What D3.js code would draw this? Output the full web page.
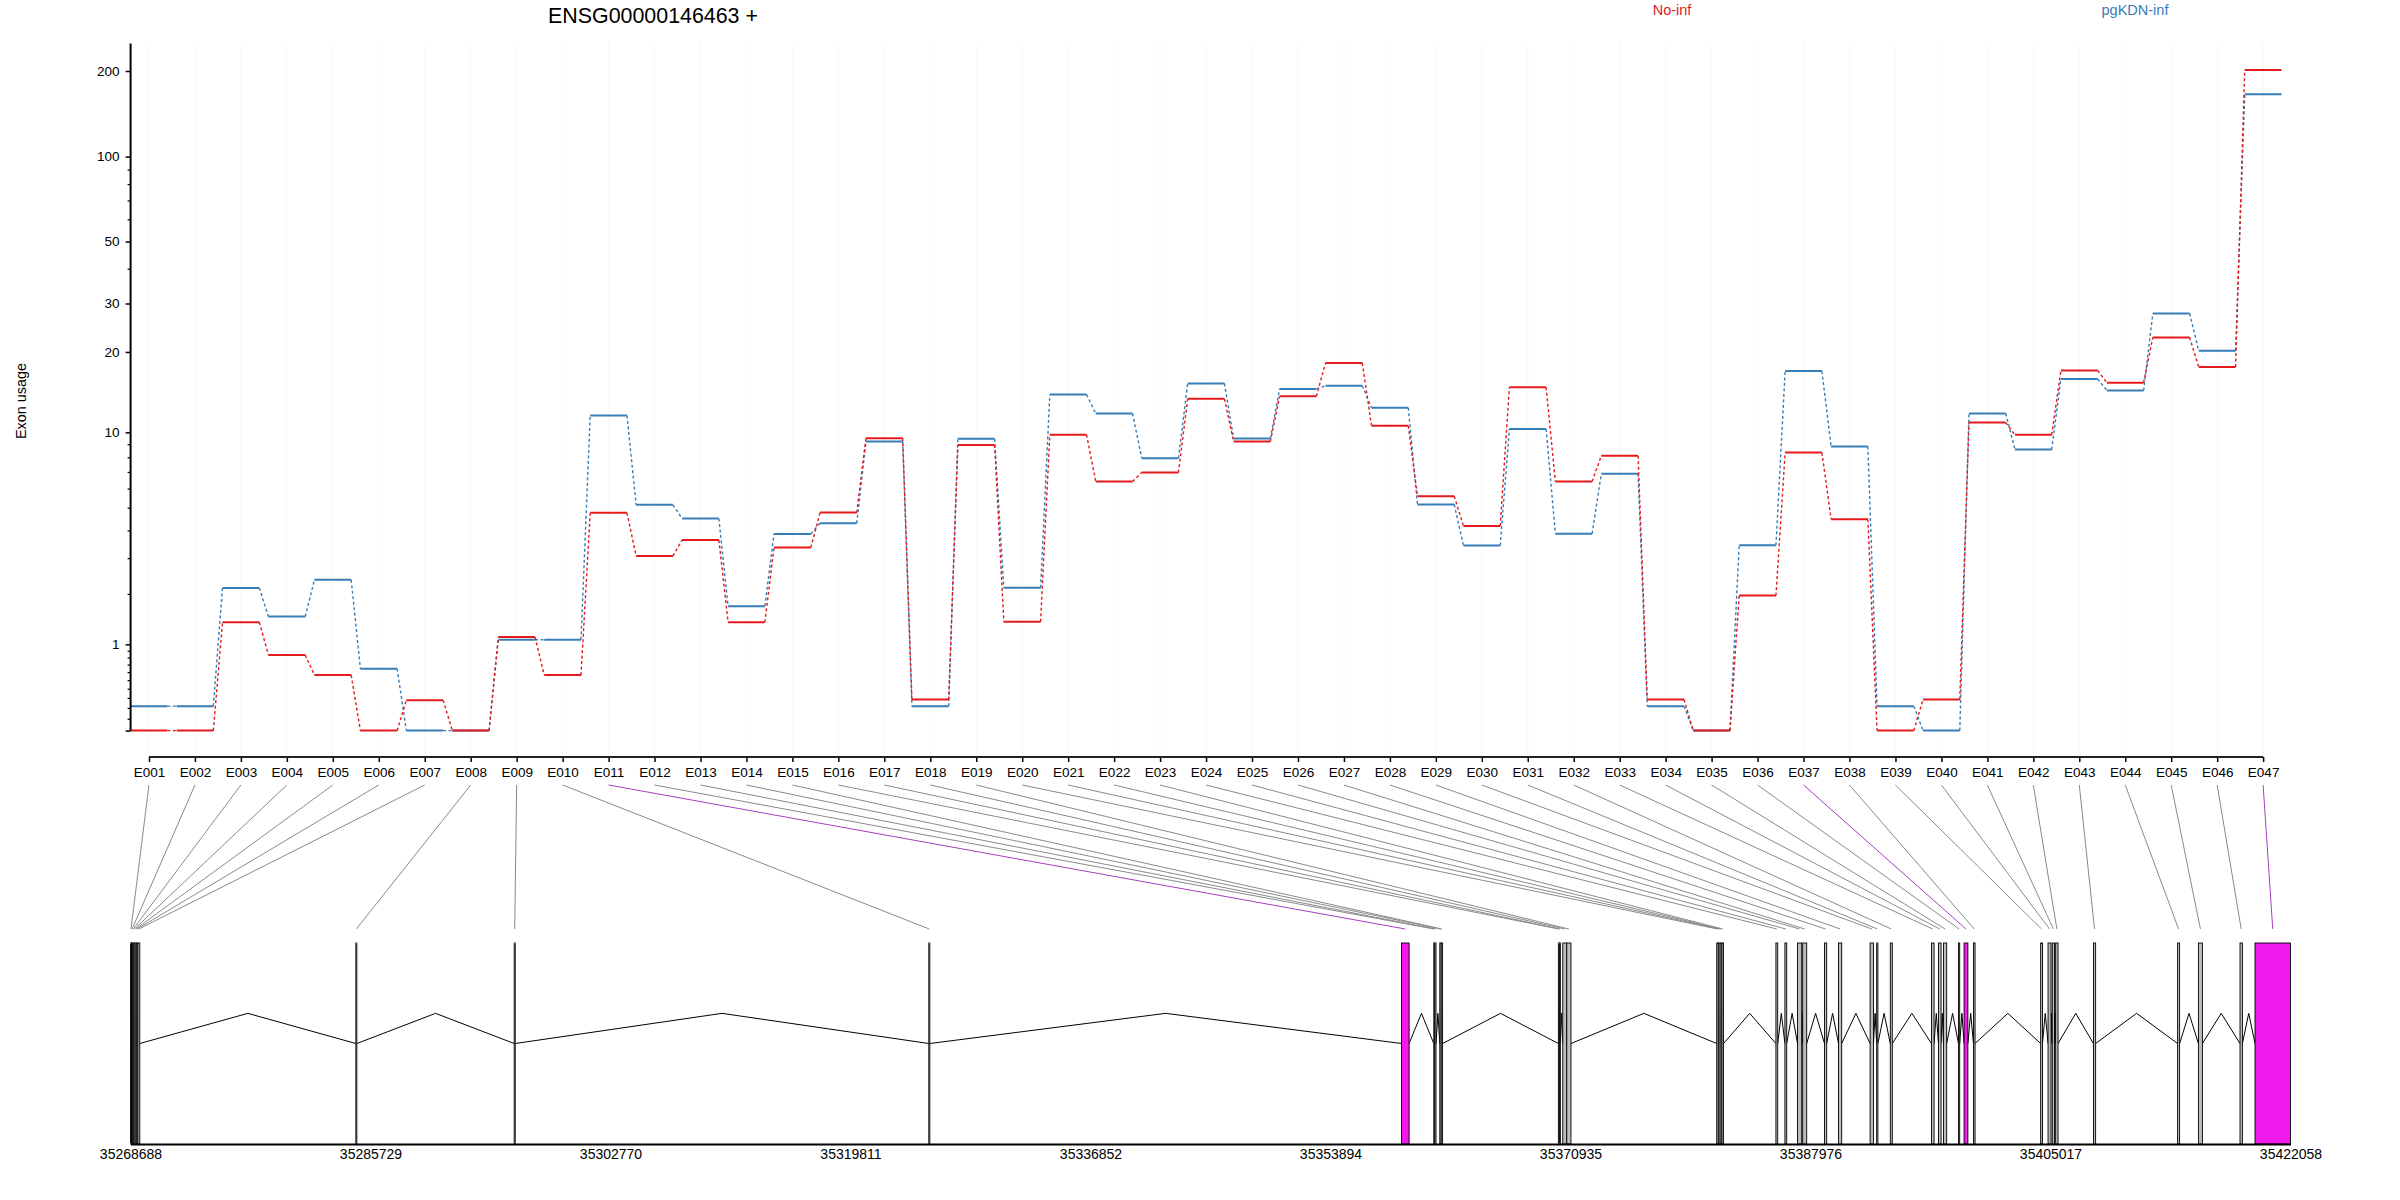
<!DOCTYPE html>
<html><head><meta charset="utf-8">
<script src="https://cdn.jsdelivr.net/npm/d3@7"></script>
<style>
body{margin:0;background:#fff}
svg{display:block}
text{font-family:"Liberation Sans", Arial, sans-serif}
</style>
</head><body>
<svg id="chart" width="2400" height="1200"></svg>
<script>
// ---------------- data ----------------
const chartTitle = "ENSG00000146463 +";
const yAxisTitle = "Exon usage";
const seriesNames = ["No-inf", "pgKDN-inf"];
const seriesColors = ["#E41A1C", "#377EB8"];
const exonIds = ["E001","E002","E003","E004","E005","E006","E007","E008","E009","E010",
  "E011","E012","E013","E014","E015","E016","E017","E018","E019","E020",
  "E021","E022","E023","E024","E025","E026","E027","E028","E029","E030",
  "E031","E032","E033","E034","E035","E036","E037","E038","E039","E040",
  "E041","E042","E043","E044","E045","E046","E047"];
const noInf = [0, 0, 1.39, 0.835, 0.562, 0, 0.277, 0, 1.12, 0.562,
  4.76, 3.07, 3.63, 1.39, 3.355, 4.77, 9.5, 0.284, 8.93, 1.40,
  9.79, 6.41, 6.96, 13.4, 9.22, 13.7, 18.2, 10.6, 5.58, 4.18,
  14.8, 6.41, 8.11, 0.284, 0, 1.96, 8.35, 4.47, 0, 0.284,
  10.9, 9.79, 17.1, 15.4, 22.6, 17.6, 201.6];
const pgKDN = [0.217, 0.217, 2.15, 1.50, 2.36, 0.644, 0, 0, 1.076, 1.076,
  11.6, 5.14, 4.5, 1.72, 3.86, 4.30, 9.22, 0.217, 9.44, 2.155,
  13.9, 11.8, 7.94, 15.3, 9.47, 14.6, 15.0, 12.4, 5.16, 3.43,
  10.3, 3.87, 6.88, 0.217, 0, 3.44, 17.0, 8.82, 0.217, 0,
  11.8, 8.58, 15.9, 14.4, 27.6, 20.2, 165.6];
const exonStart = [35268688, 35268759, 35268844, 35268929, 35269015, 35269100, 35269213, 35284689, 35295933, 35325372,
  35358935, 35361228, 35361299, 35361654, 35361753, 35370073, 35370144, 35370385, 35370669, 35381317,
  35381431, 35381559, 35381687, 35385520, 35386159, 35387053, 35387422, 35388970, 35389964, 35392207,
  35392676, 35393641, 35396566, 35397063, 35397418, 35398485, 35398880, 35399547, 35404318, 35404843,
  35405141, 35405382, 35408066, 35414043, 35415520, 35418473, 35419538];
const exonEnd = [35268759, 35268844, 35268929, 35269015, 35269100, 35269213, 35269348, 35284760, 35296004, 35325443,
  35359475, 35361299, 35361385, 35361753, 35361853, 35370144, 35370215, 35370669, 35370968, 35381431,
  35381559, 35381687, 35381800, 35385648, 35386287, 35387351, 35387706, 35389126, 35390191, 35392448,
  35392761, 35393783, 35396750, 35397247, 35397645, 35398570, 35399150, 35399661, 35404446, 35405056,
  35405297, 35405553, 35408222, 35414185, 35415804, 35418643, 35422058];
const significantExons = ["E011", "E037", "E047"];
const yMajorTicks = [0, 1, 10, 20, 30, 50, 100, 200];
const yMajorLabels = ["", "1", "10", "20", "30", "50", "100", "200"];
const yMinorTicks = [0.1, 0.2, 0.3, 0.4, 0.5, 0.6, 0.7, 0.8, 0.9, 2, 3, 4, 5, 6, 7, 8, 9, 40, 60, 70, 80, 90];
const genomicTicks = [35268688, 35285729, 35302770, 35319811, 35336852, 35353894, 35370935, 35387976, 35405017, 35422058];

// ---------------- layout ----------------
const svg = d3.select("#chart");
const n = exonIds.length;
const plotLeft = 130.6, plotRight = 2290.7;
const plotTop = 43.6, plotBottom = 757;
const linkTop = 785, linkBottom = 929;
const geneTop = 943, geneBottom = 1144;
const isSig = id => significantExons.includes(id);
const magenta = "#F219ED";

const x = d3.scaleLinear().domain([0, n]).range([plotLeft, plotRight]);
const mid = i => x(i + 0.4);
const tr = v => Math.log10(v + 1);
const hi = tr(d3.max(noInf.concat(pgKDN)));
const pad = 0.04 * hi;
const y = d3.scaleLinear().domain([-pad, hi + pad]).range([plotBottom, plotTop]);

// vertical dotted guides
svg.append("g").selectAll("line").data(exonIds).join("line")
  .attr("x1", (d, i) => mid(i)).attr("x2", (d, i) => mid(i))
  .attr("y1", plotTop).attr("y2", plotBottom)
  .attr("stroke", d => isSig(d) ? "#f6cdf4" : "#e4e4e4")
  .attr("stroke-width", 1).attr("stroke-dasharray", "1,3");

// series
const series = [pgKDN, noInf];
const colors = [seriesColors[1], seriesColors[0]];
series.forEach((vals, s) => {
  const g = svg.append("g");
  g.selectAll("line.seg").data(vals).join("line").attr("class", "seg")
    .attr("x1", (d, i) => x(i)).attr("x2", (d, i) => x(i + 0.8))
    .attr("y1", d => y(tr(d))).attr("y2", d => y(tr(d)))
    .attr("stroke", colors[s]).attr("stroke-width", 2);
  g.selectAll("line.con").data(vals.slice(0, -1)).join("line").attr("class", "con")
    .attr("x1", (d, i) => x(i + 0.8)).attr("x2", (d, i) => x(i + 1))
    .attr("y1", d => y(tr(d))).attr("y2", (d, i) => y(tr(vals[i + 1])))
    .attr("stroke", colors[s]).attr("stroke-width", 1.4).attr("stroke-dasharray", "3,2.5");
});

// y axis
const yAxisG = svg.append("g").attr("transform", `translate(${plotLeft},0)`);
yAxisG.append("line").attr("x1", 0).attr("x2", 0).attr("y1", y(0)).attr("y2", plotTop)
  .attr("stroke", "#000").attr("stroke-width", 2);
const yMaj = yAxisG.append("g").call(d3.axisLeft(y).tickValues(yMajorTicks.map(tr))
  .tickFormat((d, i) => yMajorLabels[i]).tickSize(5).tickPadding(6));
yMaj.select(".domain").remove();
yMaj.selectAll(".tick line").attr("stroke", "#000").attr("stroke-width", 1.5);
yMaj.selectAll(".tick text").attr("font-size", 13.5).attr("fill", "#000")
  .attr("font-family", "Liberation Sans, Arial, sans-serif");
const yMin = yAxisG.append("g").call(d3.axisLeft(y).tickValues(yMinorTicks.map(tr))
  .tickFormat("").tickSize(3));
yMin.select(".domain").remove();
yMin.selectAll(".tick line").attr("stroke", "#000").attr("stroke-width", 1.2);

svg.append("text").attr("transform", "translate(21,401) rotate(-90)")
  .attr("text-anchor", "middle").attr("dominant-baseline", "central")
  .attr("font-size", 14.4).text(yAxisTitle);

// x axis (exon labels)
const xAxisG = svg.append("g").attr("transform", `translate(0,${plotBottom})`)
  .call(d3.axisBottom(x).tickValues(d3.range(n).map(i => i + 0.4))
    .tickFormat((d, i) => exonIds[i]).tickSize(5).tickPadding(5));
xAxisG.select(".domain").remove();
xAxisG.append("line").attr("x1", mid(0)).attr("x2", mid(n - 1)).attr("y1", 0).attr("y2", 0)
  .attr("stroke", "#222").attr("stroke-width", 2);
xAxisG.selectAll(".tick line").attr("stroke", "#000").attr("stroke-width", 1.5);
xAxisG.selectAll(".tick text").attr("font-size", 13.5).attr("fill", "#000")
  .attr("font-family", "Liberation Sans, Arial, sans-serif");

// title & legend
svg.append("text").attr("x", 653).attr("y", 23).attr("text-anchor", "middle")
  .attr("font-size", 21.4).attr("fill", "#000").text(chartTitle);
const legendX = [1672, 2135];
seriesNames.forEach((name, i) => {
  svg.append("text").attr("x", legendX[i]).attr("y", 14.5).attr("text-anchor", "middle")
    .attr("font-size", 14.5).attr("fill", seriesColors[i]).text(name);
});

// gene model
const gx = d3.scaleLinear().domain([d3.min(exonStart), d3.max(exonEnd)]).range([130.5, 2290.5]);

// link lines
svg.append("g").selectAll("line").data(exonIds).join("line")
  .attr("x1", (d, i) => mid(i)).attr("y1", linkTop)
  .attr("x2", (d, i) => gx((exonStart[i] + exonEnd[i]) / 2)).attr("y2", linkBottom)
  .attr("stroke", d => isSig(d) ? "#a43fbf" : "#8a8a8a").attr("stroke-width", 1);

// introns
const yMid = geneTop + (geneBottom - geneTop) * 0.5;
const yApex = geneTop + (geneBottom - geneTop) * 0.35;
const intronG = svg.append("g");
d3.range(n - 1).forEach(i => {
  const a = gx(exonEnd[i]), b = gx(exonStart[i + 1]);
  intronG.append("polyline")
    .attr("points", `${a},${yMid} ${(a + b) / 2},${yApex} ${b},${yMid}`)
    .attr("fill", "none").attr("stroke", "#000").attr("stroke-width", 1);
});

// exons
svg.append("g").selectAll("rect").data(exonIds).join("rect")
  .attr("x", (d, i) => gx(exonStart[i]))
  .attr("width", (d, i) => Math.max(0.6, gx(exonEnd[i]) - gx(exonStart[i])))
  .attr("y", geneTop).attr("height", geneBottom - geneTop)
  .attr("fill", d => isSig(d) ? magenta : "#bdbdbd")
  .attr("stroke", "#000").attr("stroke-width", 0.9);

// genomic axis
const gAxis = svg.append("g").attr("transform", `translate(0,${geneBottom})`)
  .call(d3.axisBottom(gx).tickValues(genomicTicks).tickFormat(d3.format("d"))
    .tickSizeInner(0).tickSizeOuter(0).tickPadding(5));
gAxis.select(".domain").attr("stroke", "#000").attr("stroke-width", 2);
gAxis.selectAll(".tick text").attr("font-size", 14).attr("fill", "#000")
  .attr("font-family", "Liberation Sans, Arial, sans-serif");
</script>
</body></html>
